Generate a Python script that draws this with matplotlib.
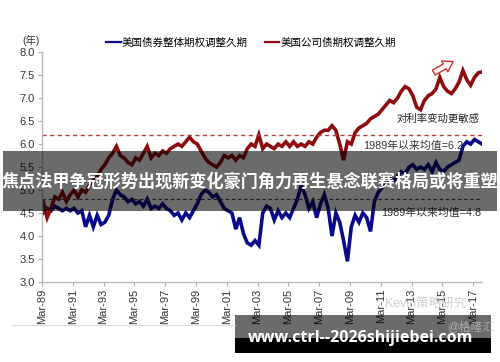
import numpy as np
import matplotlib
matplotlib.use("Agg")
import matplotlib.pyplot as plt
from matplotlib.patches import Rectangle
from matplotlib.lines import Line2D

plt.rcParams['font.family'] = ['Liberation Sans', 'Noto Sans CJK SC', 'DejaVu Sans']

# quarterly points, first one at 1989.25
start_year = 1989.25
step = 0.25

corp_oad = [4.75, 4.40, 4.60,
            4.85, 4.80, 4.95, 4.75,
            4.90, 5.00, 4.85, 5.00,
            4.95, 5.10, 5.20, 5.30,
            5.45, 5.55, 5.70, 5.80,
            5.95, 5.75, 5.70, 5.60,
            5.55, 5.70, 5.65, 5.80,
            5.95, 5.70, 5.80, 5.75,
            5.85, 5.80, 5.90, 5.95,
            6.00, 5.95, 6.05, 6.15,
            6.05, 6.00, 5.85, 5.70,
            5.60, 5.55, 5.50, 5.60,
            5.75, 5.70, 5.75, 5.65,
            5.75, 5.70, 5.90, 6.00,
            5.95, 6.20, 5.90, 6.00,
            5.95, 5.90, 6.00, 5.95,
            6.05, 5.95, 6.05, 5.95,
            6.00, 5.95, 6.05, 6.00,
            6.15, 6.25, 6.30, 6.30,
            6.40, 6.30, 6.00, 5.65,
            6.05, 6.00, 6.25, 6.35,
            6.40, 6.45, 6.55, 6.60,
            6.65, 6.75, 6.85, 6.95,
            6.90, 7.00, 7.15, 7.25,
            7.20, 7.05, 6.80, 6.75,
            6.95, 7.05, 7.10, 7.20,
            7.45, 7.25, 7.15, 7.10,
            7.20, 7.35, 7.60, 7.40,
            7.28, 7.45, 7.55, 7.57]

agg_oad = [4.50, 4.60, 4.55,
           4.65, 4.60, 4.55, 4.60,
           4.55, 4.60, 4.50, 4.55,
           4.20, 4.45, 4.20, 4.45,
           4.25, 4.30, 4.45, 4.80,
           5.00, 4.90, 4.85, 4.75,
           4.80, 4.70, 4.75, 4.65,
           4.80, 4.60, 4.65, 4.60,
           4.70, 4.60, 4.55, 4.45,
           4.50, 4.35, 4.50, 4.40,
           4.55, 4.70, 4.90, 5.00,
           4.95, 4.85, 4.90, 4.75,
           4.60, 4.55, 4.50, 4.15,
           4.40, 4.05, 3.85, 3.80,
           3.90, 3.80, 4.50, 4.65,
           4.60, 4.35, 4.55, 4.40,
           4.50, 4.40, 4.60, 4.80,
           5.10, 4.90, 4.60, 4.75,
           4.40, 4.70, 4.90, 4.60,
           4.00, 4.50, 4.30, 3.90,
           3.45, 4.20, 4.45, 4.30,
           4.50, 4.40, 4.10, 4.75,
           4.95, 5.05, 5.15, 5.25,
           5.20, 5.30, 5.40, 5.35,
           5.50, 5.55, 5.45, 5.50,
           5.45, 5.55, 5.40, 5.60,
           5.45, 5.40, 5.50, 5.55,
           5.60, 5.65, 5.95, 6.05,
           6.00, 6.10, 6.05, 6.00]

corp_mean = 6.2
agg_mean = 4.8

tick_years = [1989, 1991, 1993, 1995, 1997, 1999, 2001, 2003,
              2005, 2007, 2009, 2011, 2013, 2015, 2017]
tick_labels = ['Mar-%02d' % (y % 100) for y in tick_years]
y_ticks = [3.0, 3.5, 4.0, 4.5, 5.0, 5.5, 6.0, 6.5, 7.0, 7.5, 8.0]

years = start_year + step * np.arange(len(corp_oad))
mar = 2 / 12.0

fig = plt.figure(figsize=(5, 3.62), dpi=100)
ax = fig.add_axes([0.084, 0.221, 0.88, 0.635])

blue = '#0a0a8c'
red = '#8e0c0c'
ax.plot(years, agg_oad, color=blue, lw=2.6, solid_joinstyle='miter')
ax.plot(years, corp_oad, color=red, lw=2.6, solid_joinstyle='miter')
ax.axhline(corp_mean, color='#b04040', lw=1.0, ls=(0, (3, 2.5)))
ax.axhline(agg_mean, color='#404040', lw=0.8, ls=(0, (3, 2.5)))

ax.set_xlim(1989 + mar, 2017.74)
ax.set_ylim(3.0, 8.0)
ax.set_xticks([y + mar for y in tick_years])
ax.set_xticklabels(tick_labels, rotation=90, fontsize=8, color='#333333')
ax.set_yticks(y_ticks)
ax.set_yticklabels(['%.1f' % v for v in y_ticks], fontsize=8, color='#333333')
ax.tick_params(length=3, color='#b0b0b0', width=0.8, pad=2)
for s in ['top', 'right']:
    ax.spines[s].set_visible(False)
for s in ['left', 'bottom']:
    ax.spines[s].set_color('#b8b8b8')
    ax.spines[s].set_linewidth(1.0)

handles = [Line2D([], [], color=blue, lw=1.6), Line2D([], [], color=red, lw=1.6)]
ax.legend(handles, ['美国债券整体期权调整久期', '美国公司债期权调整久期'],
          loc='center', bbox_to_anchor=(0.502, 0.881), bbox_transform=fig.transFigure,
          ncol=2, frameon=False, fontsize=7.6, handlelength=1.4,
          handletextpad=0.1, columnspacing=1.6, borderpad=0)

fig.text(0.044, 0.889, '(年)', fontsize=7.5, color='#333333', ha='left', va='center')

ax.text(0.995, 0.71, '对利率变动更敏感', transform=ax.transAxes, fontsize=7.5,
        ha='right', va='center', color='#222222')
ax.text(0.73, 0.592, '1989年以来均值=6.2', transform=ax.transAxes, fontsize=7.8,
        ha='left', va='center', color='#333333')
ax.text(0.77, 0.30, '1989年以来均值=4.8', transform=ax.transAxes, fontsize=7.8,
        ha='left', va='center', color='#333333')

ax.annotate('', xy=(0.94, 0.965), xytext=(0.885, 0.905), xycoords='axes fraction',
            arrowprops=dict(arrowstyle='simple,head_width=0.9,head_length=0.7,tail_width=0.4',
                            fc='white', ec='#d03030', lw=1.0))

# page overlays
fig.add_artist(Line2D([0.024, 0.47], [1 - 325 / 362, 1 - 325 / 362],
                      color='#dddddd', lw=0.8))
fig.text(0.77, 1 - 305 / 362, 'Kevin策略研究', fontsize=9, color='#c8c8c8',
         ha='left', va='center', alpha=0.85)

fig.add_artist(Rectangle((0.006, 1 - 211 / 362), 0.988, 60 / 362, transform=fig.transFigure,
                         facecolor='black', alpha=0.58, edgecolor='none'))
fig.text(0.5, 1 - 182 / 362, '焦点法甲争冠形势出现新变化豪门角力再生悬念联赛格局或将重塑',
         fontsize=12.3, fontweight='bold', color='white', ha='center', va='center',
         family=['Noto Sans CJK SC', 'DejaVu Sans'])

fig.add_artist(Rectangle((0.47, 1 - 338 / 362), 0.512, 23 / 362, transform=fig.transFigure,
                         facecolor='black', alpha=0.58, edgecolor='none'))
fig.add_artist(Rectangle((0.47, 1 - 353 / 362), 0.512, 15 / 362, transform=fig.transFigure,
                         facecolor='black', edgecolor='none'))
fig.text(0.894, 1 - 327 / 362, '@格隆汇', fontsize=8.5, color='#bbbbbb',
         ha='left', va='center', alpha=0.8)
fig.text(0.722, 1 - 338 / 362, 'www.ctrl--2026shijiebei.com', fontsize=11.5,
         fontweight='bold', color='white', ha='center', va='center', family='Open Sans')

fig.savefig('out.png', dpi=100)
